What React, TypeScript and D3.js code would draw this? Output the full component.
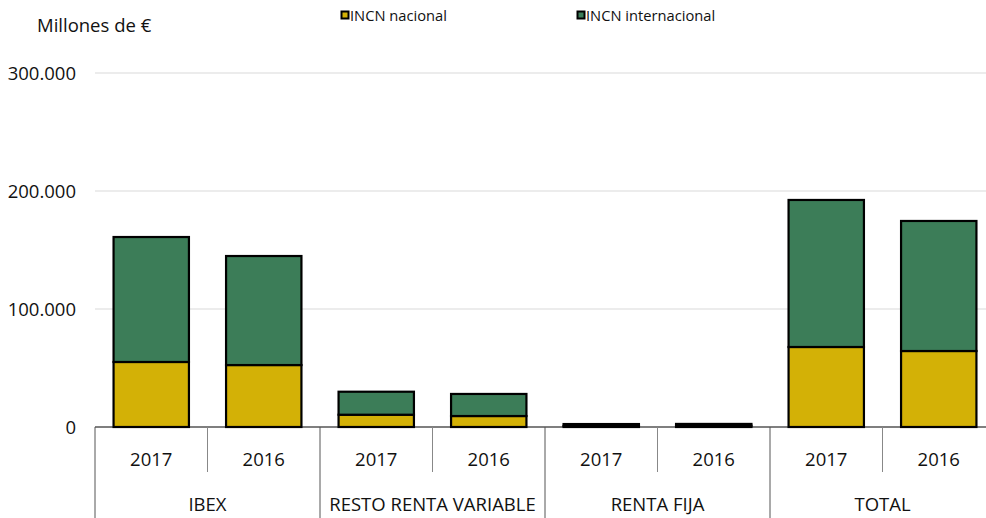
import { useRef, useEffect } from "react";
import * as d3 from "d3";

// data (millones de €)
const groups = ["IBEX", "RESTO RENTA VARIABLE", "RENTA FIJA", "TOTAL"];
const years = ["2017", "2016"];
const nacional = [55.1, 52.5, 10.4, 9.3, 0.9, 1.1, 67.8, 64.4].map((v) => v * 1000);
const internacional = [105.9, 92.4, 19.5, 18.7, 1.6, 1.5, 124.6, 110.2].map((v) => v * 1000);
const yTicks = [0, 100000, 200000, 300000];
const seriesNames = ["INCN nacional", "INCN internacional"];
const colors = ["#D3B106", "#3C7D58"];

const App = () => {
  const svgRef = useRef<SVGSVGElement | null>(null);

  useEffect(() => {
    document.body.style.margin = "0";
    const w = 986;
    const h = 518;
    const left = 95;
    const right = 995;
    const top = 73;
    const bottom = 427;
    const font = "'Open Sans', 'Noto Sans', sans-serif";
    const fs = 18.5;

    const svg = d3
      .select(svgRef.current)
      .attr("width", w)
      .attr("height", h)
      .style("display", "block")
      .style("background", "#ffffff");
    svg.selectAll("*").remove();

    const keys = groups.flatMap((g) => years.map((y) => g + "|" + y));
    const x = d3.scaleBand().domain(keys).range([left, right]).paddingInner(0).paddingOuter(0);
    const yScale = d3.scaleLinear().domain([0, 300000]).range([bottom, top]);
    const fmt = (d: number) => (d === 0 ? "0" : d3.format(",")(d).replace(/,/g, "."));

    // gridlines
    svg
      .append("g")
      .selectAll("line")
      .data(yTicks.filter((d) => d > 0))
      .join("line")
      .attr("x1", left)
      .attr("x2", w)
      .attr("y1", (d) => yScale(d))
      .attr("y2", (d) => yScale(d))
      .attr("stroke", "#d9d9d9")
      .attr("stroke-width", 1.2);

    // y labels
    svg
      .append("g")
      .selectAll("text")
      .data(yTicks)
      .join("text")
      .attr("x", 76)
      .attr("y", (d) => yScale(d) + 6.5)
      .attr("text-anchor", "end")
      .attr("font-family", font)
      .attr("font-size", fs)
      .attr("fill", "#111")
      .text(fmt);

    // stacked bars
    const stackData = keys.map((k, i) => ({ key: k, nacional: nacional[i], internacional: internacional[i] }));
    const stack = d3.stack<any>().keys(["nacional", "internacional"])(stackData);
    const bw = x.bandwidth() * 0.67;
    stack.forEach((layer, li) => {
      svg
        .append("g")
        .selectAll("rect")
        .data(layer)
        .join("rect")
        .attr("x", (d: any) => (x(d.data.key) as number) + (x.bandwidth() - bw) / 2)
        .attr("y", (d) => yScale(d[1]))
        .attr("width", bw)
        .attr("height", (d) => yScale(d[0]) - yScale(d[1]))
        .attr("fill", colors[li])
        .attr("stroke", "#000")
        .attr("stroke-width", 2.2);
    });

    // axis line
    svg
      .append("line")
      .attr("x1", left)
      .attr("x2", w)
      .attr("y1", bottom)
      .attr("y2", bottom)
      .attr("stroke", "#000")
      .attr("stroke-width", 1.2);

    // separators below the axis
    keys.forEach((k, i) => {
      const xx = x(k) as number;
      const isGroup = i % years.length === 0;
      svg
        .append("line")
        .attr("x1", xx)
        .attr("x2", xx)
        .attr("y1", bottom)
        .attr("y2", isGroup ? h : 472)
        .attr("stroke", isGroup ? "#555" : "#888")
        .attr("stroke-width", 1);
    });

    // year labels
    svg
      .append("g")
      .selectAll("text")
      .data(keys)
      .join("text")
      .attr("x", (d) => (x(d) as number) + x.bandwidth() / 2)
      .attr("y", 466)
      .attr("text-anchor", "middle")
      .attr("font-family", font)
      .attr("font-size", fs)
      .attr("fill", "#111")
      .text((d) => d.split("|")[1]);

    // group labels
    svg
      .append("g")
      .selectAll("text")
      .data(groups)
      .join("text")
      .attr("x", (g) => (x(g + "|" + years[0]) as number) + x.bandwidth())
      .attr("y", 511)
      .attr("text-anchor", "middle")
      .attr("font-family", font)
      .attr("font-size", fs)
      .attr("fill", "#111")
      .text((g) => g);

    // unit title
    svg
      .append("text")
      .attr("x", 37)
      .attr("y", 32)
      .attr("font-family", font)
      .attr("font-size", fs)
      .attr("fill", "#111")
      .text("Millones de €");

    // legend
    const legendX = [341, 577];
    seriesNames.forEach((name, i) => {
      const g = svg.append("g").attr("transform", `translate(${legendX[i]},0)`);
      g.append("rect")
        .attr("x", 0.5)
        .attr("y", 11.5)
        .attr("width", 7)
        .attr("height", 7)
        .attr("fill", colors[i])
        .attr("stroke", "#000")
        .attr("stroke-width", 2);
      g.append("text")
        .attr("x", 9)
        .attr("y", 20.5)
        .attr("font-family", font)
        .attr("font-size", 14.7)
        .attr("fill", "#111")
        .text(name);
    });
  }, []);

  return <svg ref={svgRef}></svg>;
};

export default App;
